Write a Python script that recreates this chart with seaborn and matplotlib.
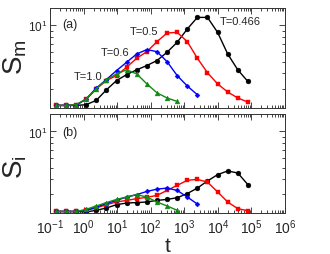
import matplotlib
matplotlib.use("Agg")
import matplotlib.pyplot as plt
import matplotlib.ticker as mticker
import seaborn as sns

# waiting times t (same grid for every temperature)
t_vals = [0.15, 0.3, 0.6, 1.2, 2.4, 4.8, 9.6, 19.2, 38.4, 76.8, 153.6, 307.2,
          614.4, 1228.8, 2457.6, 4915.2, 9830.4, 19660.8, 39321.6, 78643.2]

temps = ['T=0.466', 'T=0.5', 'T=0.6', 'T=1.0']

# panel (a): S_m
sm_0466 = [2.18, 2.18, 2.18, 2.21, 2.40, 2.93, 3.49, 3.91, 4.28, 4.64, 5.10, 5.97,
           7.21, 9.27, 11.56, 11.56, 8.71, 5.78, 4.28, 3.43]
sm_05 = [2.18, 2.18, 2.21, 2.44, 2.99, 3.49, 3.84, 4.50, 5.33, 6.04, 7.30, 8.59,
         8.71, 7.30, 5.33, 4.05, 3.28, 2.81, 2.51, 2.32]
sm_06 = [2.18, 2.18, 2.18, 2.47, 3.03, 3.56, 4.22, 4.94, 5.78, 6.28, 6.04, 5.00,
         3.84, 3.15, 2.67]
sm_10 = [2.18, 2.18, 2.21, 2.47, 2.99, 3.54, 3.96, 4.28, 3.96, 3.28, 2.77, 2.51, 2.35]

# panel (b): S_i
si_0466 = [2.15, 2.15, 2.15, 2.13, 2.20, 2.30, 2.45, 2.53, 2.55, 2.58, 2.66, 2.71,
           2.80, 3.03, 3.37, 3.86, 4.36, 4.68, 4.50, 3.60]
si_05 = [2.15, 2.15, 2.15, 2.20, 2.30, 2.45, 2.58, 2.66, 2.75, 2.82, 2.93, 3.22,
         3.55, 3.91, 3.98, 3.78, 3.13, 2.58, 2.27, 2.18]
si_06 = [2.15, 2.15, 2.15, 2.20, 2.34, 2.50, 2.66, 2.84, 2.97, 3.16, 3.30, 3.37,
         3.22, 2.84, 2.48]
si_10 = [2.15, 2.15, 2.15, 2.24, 2.39, 2.55, 2.71, 2.84, 2.97, 2.84, 2.58, 2.39, 2.20]

# estilos de cada curva
estilos = [
    dict(color='black', marker='o', markersize=3.5),
    dict(color='#ff0000', marker='s', markersize=3.0),
    dict(color='#0000ff', marker='D', markersize=2.5),
    dict(color='#138a13', marker='^', markersize=3.5),
]

sns.set_style("ticks")
plt.rcParams['font.family'] = ['Liberation Sans', 'DejaVu Sans']
plt.rcParams['mathtext.fontset'] = 'custom'
plt.rcParams['mathtext.rm'] = 'Liberation Sans'
plt.rcParams['mathtext.it'] = 'Liberation Sans:italic'
plt.rcParams['mathtext.bf'] = 'Liberation Sans:bold'

fig = plt.figure(figsize=(3.3, 2.55), dpi=100)
ax1 = fig.add_axes([0.1515, 0.572, 0.712, 0.394])
ax2 = fig.add_axes([0.1515, 0.159, 0.712, 0.389])

series_a = [sm_0466, sm_05, sm_06, sm_10]
series_b = [si_0466, si_05, si_06, si_10]

for ax, series in [(ax1, series_a), (ax2, series_b)]:
    for vals, est in zip(series, estilos):
        sns.lineplot(x=t_vals[:len(vals)], y=vals, ax=ax, linewidth=1.0,
                     markeredgewidth=0.3, markeredgecolor=est['color'], **est)
    ax.set_xscale('log')
    ax.set_yscale('log')
    ax.set_xlim(1e-1, 1e6)
    ax.set_ylim(2.07, 13.9)
    ax.xaxis.set_major_locator(mticker.LogLocator(base=10, numticks=20))
    ax.xaxis.set_minor_locator(mticker.LogLocator(base=10, subs=range(2, 10), numticks=20))
    ax.yaxis.set_major_locator(mticker.LogLocator(base=10))
    ax.yaxis.set_minor_locator(mticker.LogLocator(base=10, subs=range(2, 10)))
    ax.yaxis.set_minor_formatter(mticker.NullFormatter())
    ax.xaxis.set_minor_formatter(mticker.NullFormatter())
    ax.tick_params(which='both', direction='in', top=True, right=True, width=0.6)
    ax.tick_params(which='major', length=4)
    ax.tick_params(which='minor', length=2)
    ax.tick_params(axis='y', labelsize=8.5, pad=2)
    ax.tick_params(axis='x', labelsize=10, pad=3)
    for sp in ax.spines.values():
        sp.set_linewidth(0.7)
        sp.set_color('#333333')
    ax.set_xlabel('')
    ax.set_ylabel('')

ax1.tick_params(axis='x', labelbottom=False)

# Rótulos das curvas
ax1.text(0.162, 0.321, temps[3], transform=ax1.transAxes, fontsize=8, ha='center', va='center')
ax1.text(0.277, 0.56, temps[2], transform=ax1.transAxes, fontsize=8, ha='center', va='center')
ax1.text(0.40, 0.769, temps[1], transform=ax1.transAxes, fontsize=8, ha='center', va='center')
ax1.text(0.809, 0.869, temps[0], transform=ax1.transAxes, fontsize=8, ha='center', va='center')
ax1.text(0.083, 0.839, '(a)', transform=ax1.transAxes, fontsize=9, ha='center', va='center')
ax2.text(0.083, 0.82, '(b)', transform=ax2.transAxes, fontsize=9, ha='center', va='center')

# Titulo dos Eixos
ax1.set_ylabel(r'S$_\mathregular{m}$', fontsize=20)
ax2.set_ylabel(r'S$_\mathregular{i}$', fontsize=20)
ax1.yaxis.set_label_coords(-0.09, 0.52)
ax2.yaxis.set_label_coords(-0.09, 0.48)
ax2.set_xlabel('t', fontsize=15, labelpad=0)

fig.savefig('out.png', dpi=100)
